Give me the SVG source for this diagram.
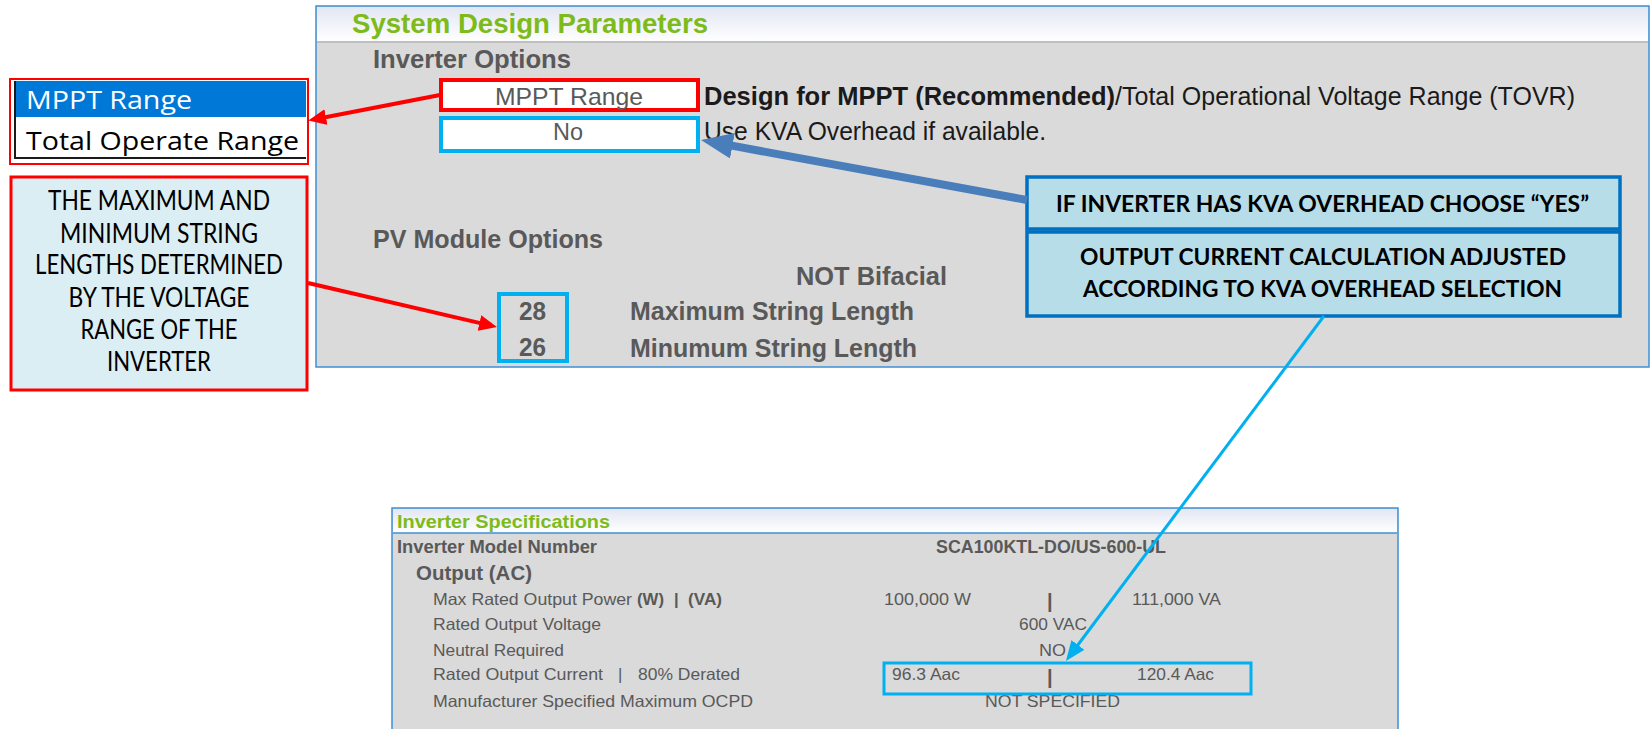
<svg xmlns="http://www.w3.org/2000/svg" width="1651" height="729" viewBox="0 0 1651 729">
  <defs>
    <linearGradient id="hdr" x1="0" y1="0" x2="0" y2="1">
      <stop offset="0" stop-color="#E3E7F3"/>
      <stop offset="1" stop-color="#FFFFFF"/>
    </linearGradient>
    <marker id="ahRed" viewBox="0 0 18 16" markerWidth="18" markerHeight="16" refX="2" refY="8" orient="auto" markerUnits="userSpaceOnUse">
      <path d="M0,0 L18,8 L0,16 Z" fill="#FF0000"/>
    </marker>
    <marker id="ahSteel" viewBox="0 0 32 26" markerWidth="32" markerHeight="26" refX="2" refY="13" orient="auto" markerUnits="userSpaceOnUse">
      <path d="M0,0 L32,13 L0,26 Z" fill="#4A7EBB"/>
    </marker>
    <marker id="ahCyan" viewBox="0 0 20 16" markerWidth="20" markerHeight="16" refX="2" refY="8" orient="auto" markerUnits="userSpaceOnUse">
      <path d="M0,0 L20,8 L0,16 Z" fill="#00B0F0"/>
    </marker>
  </defs>
  <style>
    .panel { fill: #DADADA; stroke: #3D8FD6; stroke-width: 1.5; }
    .ttl { font-family: "Liberation Sans", Arial, sans-serif; font-weight: bold; fill: #7DBB1A; }
    .sec { font-family: "Liberation Sans", Arial, sans-serif; font-weight: bold; fill: #595959; }
    .val { font-family: "Liberation Sans", Arial, sans-serif; fill: #595959; }
    .bk { font-family: "Liberation Sans", Arial, sans-serif; fill: #1A1A1A; }
    .cell { fill: #FFFFFF; stroke-width: 4; }
    .call { fill: #B7DDE8; stroke: #0070C0; stroke-width: 3.5; }
    .callTxt { font-family: Lato, "Open Sans", sans-serif; font-weight: bold; font-size: 23px; fill: #000000; }
    .noteTxt { font-family: Lato, "Open Sans", sans-serif; font-size: 26px; fill: #000000; text-anchor: middle; }
    .ddTxt { font-family: "Open Sans", "Noto Sans", sans-serif; font-size: 26px; }
    .sm { font-size: 16.5px; }
  </style>

  <!-- System Design Parameters panel -->
  <g id="system-design-panel">
    <rect class="panel" x="316" y="6" width="1333" height="361"/>
    <rect x="317" y="7" width="1331" height="35" fill="url(#hdr)"/>
    <line x1="317" y1="42" x2="1648" y2="42" stroke="#BFBFBF" stroke-width="2"/>
    <text class="ttl" x="352" y="33" font-size="27" textLength="356" lengthAdjust="spacingAndGlyphs">System Design Parameters</text>
    <text class="sec" x="373" y="68" font-size="25" textLength="198" lengthAdjust="spacingAndGlyphs">Inverter Options</text>
    <text class="bk" x="704" y="105" font-size="25" font-weight="bold" fill="#000" textLength="411" lengthAdjust="spacingAndGlyphs">Design for MPPT (Recommended)</text>
    <text class="bk" x="1115" y="105" font-size="25" textLength="460" lengthAdjust="spacingAndGlyphs">/Total Operational Voltage Range (TOVR)</text>
    <text class="bk" x="704" y="140" font-size="25" textLength="342" lengthAdjust="spacingAndGlyphs">Use KVA Overhead if available.</text>
    <text class="sec" x="373" y="248" font-size="25" textLength="230" lengthAdjust="spacingAndGlyphs">PV Module Options</text>
    <text class="sec" x="796" y="285" font-size="25" textLength="151" lengthAdjust="spacingAndGlyphs">NOT Bifacial</text>
    <text class="sec" x="630" y="320" font-size="25" textLength="284" lengthAdjust="spacingAndGlyphs">Maximum String Length</text>
    <text class="sec" x="630" y="357" font-size="25" textLength="287" lengthAdjust="spacingAndGlyphs">Minumum String Length</text>
  </g>

  <!-- MPPT selection cell -->
  <g id="mppt-cell">
    <rect class="cell" x="441" y="80" width="257" height="30" stroke="#FF0000"/>
    <text class="val" x="495" y="105" font-size="24" fill="#7F7F7F" textLength="148" lengthAdjust="spacingAndGlyphs">MPPT Range</text>
  </g>

  <!-- KVA overhead cell -->
  <g id="kva-cell">
    <rect class="cell" x="441" y="118" width="257" height="33" stroke="#00B0F0"/>
    <text class="val" x="553" y="140" font-size="24" textLength="30" lengthAdjust="spacingAndGlyphs">No</text>
  </g>

  <!-- String length cells -->
  <g id="string-length-cell">
    <rect x="499" y="294" width="68" height="67" fill="none" stroke="#00B0F0" stroke-width="4"/>
    <text class="sec" x="519" y="320" font-size="25" textLength="27" lengthAdjust="spacingAndGlyphs">28</text>
    <text class="sec" x="519" y="356" font-size="25" textLength="27" lengthAdjust="spacingAndGlyphs">26</text>
  </g>

  <!-- Dropdown list -->
  <g id="range-dropdown">
    <rect x="10" y="79" width="298" height="85" fill="#FFFFFF" stroke="#FF0000" stroke-width="2"/>
    <rect x="15" y="81" width="291" height="36" fill="#0078D7"/>
    <path d="M15,81 L15,158 L306,158" fill="none" stroke="#1A1A1A" stroke-width="2"/>
    <text class="ddTxt" x="26" y="109" fill="#FFFFFF" textLength="166" lengthAdjust="spacingAndGlyphs">MPPT Range</text>
    <text class="ddTxt" x="26" y="150" fill="#000000" textLength="273" lengthAdjust="spacingAndGlyphs">Total Operate Range</text>
  </g>

  <!-- String length note -->
  <g id="string-note">
    <rect x="11" y="177" width="296" height="213" fill="#DBEEF3" stroke="#FF0000" stroke-width="3"/>
    <text class="noteTxt" x="159" y="210" textLength="222" lengthAdjust="spacingAndGlyphs">THE MAXIMUM AND</text>
    <text class="noteTxt" x="159" y="243" textLength="198" lengthAdjust="spacingAndGlyphs">MINIMUM STRING</text>
    <text class="noteTxt" x="159" y="274" textLength="248" lengthAdjust="spacingAndGlyphs">LENGTHS DETERMINED</text>
    <text class="noteTxt" x="159" y="307" textLength="181" lengthAdjust="spacingAndGlyphs">BY THE VOLTAGE</text>
    <text class="noteTxt" x="159" y="339" textLength="157" lengthAdjust="spacingAndGlyphs">RANGE OF THE</text>
    <text class="noteTxt" x="159" y="371" textLength="104" lengthAdjust="spacingAndGlyphs">INVERTER</text>
  </g>

  <!-- KVA callouts -->
  <g id="kva-callout">
    <rect class="call" x="1027" y="177" width="593" height="52"/>
    <text class="callTxt" x="1056" y="212" textLength="533" lengthAdjust="spacingAndGlyphs">IF INVERTER HAS KVA OVERHEAD CHOOSE “YES”</text>
  </g>
  <g id="output-callout">
    <rect class="call" x="1027" y="232" width="593" height="84"/>
    <text class="callTxt" x="1080" y="265" textLength="486" lengthAdjust="spacingAndGlyphs">OUTPUT CURRENT CALCULATION ADJUSTED</text>
    <text class="callTxt" x="1083" y="297" textLength="479" lengthAdjust="spacingAndGlyphs">ACCORDING TO KVA OVERHEAD SELECTION</text>
  </g>

  <!-- Inverter Specifications panel -->
  <g id="inverter-spec-panel">
    <rect class="panel" x="392" y="508" width="1006" height="230"/>
    <rect x="393" y="509" width="1004" height="24" fill="url(#hdr)"/>
    <line x1="393" y1="533" x2="1397" y2="533" stroke="#3D8FD6" stroke-width="1.5"/>
    <text class="ttl" x="397" y="528" font-size="18.5" textLength="213" lengthAdjust="spacingAndGlyphs">Inverter Specifications</text>
    <text class="sec" x="397" y="553" font-size="17.5" fill="#404040" textLength="200" lengthAdjust="spacingAndGlyphs">Inverter Model Number</text>
    <text class="sec" x="936" y="553" font-size="17.5" fill="#404040" textLength="230" lengthAdjust="spacingAndGlyphs">SCA100KTL-DO/US-600-UL</text>
    <text class="sec" x="416" y="580" font-size="19.5" fill="#404040" textLength="116" lengthAdjust="spacingAndGlyphs">Output (AC)</text>

    <text class="val sm" x="433" y="605" textLength="199" lengthAdjust="spacingAndGlyphs">Max Rated Output Power</text>
    <text class="sec sm" x="637" y="605" textLength="27" lengthAdjust="spacingAndGlyphs">(W)</text>
    <text class="sec sm" x="674" y="605">|</text>
    <text class="sec sm" x="688" y="605" textLength="34" lengthAdjust="spacingAndGlyphs">(VA)</text>
    <text class="val sm" x="884" y="605" textLength="87" lengthAdjust="spacingAndGlyphs">100,000 W</text>
    <text class="sec" x="1047" y="608" font-size="20">|</text>
    <text class="val sm" x="1132" y="605" textLength="89" lengthAdjust="spacingAndGlyphs">111,000 VA</text>

    <text class="val sm" x="433" y="630" textLength="168" lengthAdjust="spacingAndGlyphs">Rated Output Voltage</text>
    <text class="val sm" x="1019" y="630" textLength="68" lengthAdjust="spacingAndGlyphs">600 VAC</text>

    <text class="val sm" x="433" y="656" textLength="131" lengthAdjust="spacingAndGlyphs">Neutral Required</text>
    <text class="val sm" x="1039" y="656" textLength="27" lengthAdjust="spacingAndGlyphs">NO</text>

    <text class="val sm" x="433" y="680" textLength="170" lengthAdjust="spacingAndGlyphs">Rated Output Current</text>
    <text class="val sm" x="618" y="680">|</text>
    <text class="val sm" x="638" y="680" textLength="102" lengthAdjust="spacingAndGlyphs">80% Derated</text>

    <text class="val sm" x="433" y="707" textLength="320" lengthAdjust="spacingAndGlyphs">Manufacturer Specified Maximum OCPD</text>
    <text class="val sm" x="985" y="707" textLength="135" lengthAdjust="spacingAndGlyphs">NOT SPECIFIED</text>
  </g>

  <!-- Rated output current cell -->
  <g id="output-current-cell">
    <rect x="884" y="663" width="367" height="31" fill="none" stroke="#00B0F0" stroke-width="3"/>
    <text class="val sm" x="892" y="680" textLength="68" lengthAdjust="spacingAndGlyphs">96.3 Aac</text>
    <text class="sec" x="1047" y="684" font-size="20">|</text>
    <text class="val sm" x="1137" y="680" textLength="77" lengthAdjust="spacingAndGlyphs">120.4 Aac</text>
  </g>

  <!-- Connectors -->
  <g id="connectors" fill="none">
    <line x1="440" y1="95" x2="324" y2="117.5" stroke="#FF0000" stroke-width="4" marker-end="url(#ahRed)"/>
    <line x1="308" y1="283" x2="481.4" y2="323.4" stroke="#FF0000" stroke-width="4" marker-end="url(#ahRed)"/>
    <line x1="1027" y1="200" x2="730.5" y2="145.4" stroke="#4A7EBB" stroke-width="8" marker-end="url(#ahSteel)"/>
    <line x1="1324" y1="316" x2="1076.7" y2="646.5" stroke="#00B0F0" stroke-width="3" marker-end="url(#ahCyan)"/>
  </g>
</svg>
